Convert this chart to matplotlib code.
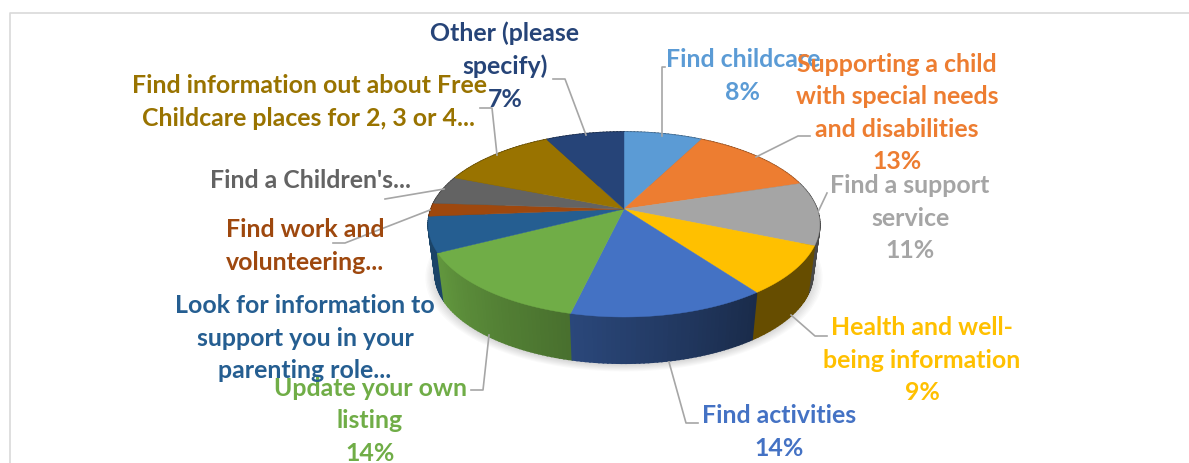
import numpy as np
import matplotlib
matplotlib.use("Agg")
import matplotlib.pyplot as plt

plt.rcParams['font.family'] = ['Lato', 'DejaVu Sans']

# Slices, clockwise from 12 o'clock
categories = ["Find childcare", "Supporting a child\nwith special needs\nand disabilities",
              "Find a support\nservice", "Health and well-\nbeing information", "Find activities",
              "Update your own\nlisting", "Look for information to\nsupport you in your\nparenting role...",
              "Find work and\nvolunteering...", "Find a Children's...",
              "Find information out about Free\nChildcare places for 2, 3 or 4...", "Other (please\nspecify)"]
values = [7.6, 12.6, 11.05, 8.6, 13.85, 13.8, 6.2, 2.3, 4.95, 11.4, 7.6]
pct_labels = ["8%", "13%", "11%", "9%", "14%", "14%", None, None, None, None, "7%"]
colors = ["#5B9BD5", "#ED7D31", "#A5A5A5", "#FFC000", "#4472C4", "#70AD47",
          "#255E91", "#9E480E", "#636363", "#997300", "#264478"]
# darkening of the side wall, at start and end of each slice
side_shade = [(.6, .6), (.6, .6), (.45, .45), (.4, .4), (.38, .63), (.65, .88),
              (.72, .72), (.6, .6), (.6, .6), (.6, .6), (.6, .6)]

# label centre, then leader line
label_pos = [(743, 76), (897, 113), (910, 218), (922, 360), (779, 432), (370, 421),
             (305, 338), (305, 246), (311, 180), (309, 102), (505, 66)]
leaders = [[(665, 67), (662, 67), (662, 136)],
           [(810, 136), (798, 136), (756, 157)],
           [(827, 193), (818, 212)],
           [(827, 336), (815, 336), (791, 315)],
           [(698, 423), (686, 423), (669, 362)],
           [(471, 390), (483, 390), (489, 335)],
           None,
           [(333, 243), (345, 243), (430, 210)],
           [(385, 199), (444, 189)],
           [(480, 108), (492, 108), (497, 155)],
           [(553, 79), (565, 79), (586, 135)]]

# pie geometry in pixels
cx, cy = 624, 209
rx, ry = 193, 89.9
persp = 0.1676
s_bottom, d_bottom = 0.965, 50


def project(theta, r=1.0, bottom=False):
    X = r * np.sin(theta)
    Y = r * np.cos(theta)
    w = 1 + persp * Y
    sx, sy = rx * X / w, ry * Y / w
    if bottom:
        return cx + s_bottom * sx, cy + d_bottom - s_bottom * sy
    return cx + sx, cy - sy


fig = plt.figure(figsize=(11.89, 4.63), dpi=100)
ax = fig.add_axes([0, 0, 1, 1])
ax.set_xlim(0, 1189)
ax.set_ylim(463, 0)
ax.axis('off')

# chart frame
ax.plot([10, 10, 1189], [463, 13, 13], color='#D9D9D9', lw=1.2)

edges = np.cumsum([0] + values) / sum(values) * 2 * np.pi

# soft shadow under the pie
t = np.linspace(0, 2 * np.pi, 200)
for grow in np.linspace(1.05, 1.0, 8):
    bx, by = project(t, grow, bottom=True)
    ax.fill(bx, by + 2, color='k', alpha=0.02, lw=0, zorder=1)

# side wall, small strips so that the shade can change along the slice
strips = []
for i in range(len(values)):
    n = max(int((edges[i + 1] - edges[i]) / 0.02), 2)
    th = np.linspace(edges[i], edges[i + 1], n + 1)
    rgb = np.array(matplotlib.colors.to_rgb(colors[i]))
    for j in range(n):
        f = side_shade[i][0] + (side_shade[i][1] - side_shade[i][0]) * j / n
        strips.append((np.cos(th[j]), th[j], th[j + 1], rgb * f))
strips.sort(key=lambda q: -q[0])
for _, t0, t1, c in strips:
    tx, ty = project(np.array([t0, t1]))
    bx, by = project(np.array([t1, t0]), bottom=True)
    ax.fill(np.r_[tx, bx], np.r_[ty, by], color=c, lw=1.2, zorder=2)

# top surface
for i in range(len(values)):
    th = np.linspace(edges[i], edges[i + 1], 80)
    x, y = project(th)
    ax.fill(np.r_[cx, x], np.r_[cy, y], color=colors[i], lw=0.3, zorder=3)

for pts in leaders:
    if pts is not None:
        xs, ys = zip(*pts)
        ax.plot(xs, ys, color='#A6A6A6', lw=1.2, zorder=4)

for i in range(len(values)):
    txt = categories[i]
    if pct_labels[i] is not None:
        txt = txt + "\n" + pct_labels[i]
    ax.text(label_pos[i][0], label_pos[i][1], txt, color=colors[i], fontsize=17.9,
            fontweight='bold', ha='center', va='center', multialignment='center',
            linespacing=1.5, zorder=5)

fig.savefig("out.png", dpi=100)
